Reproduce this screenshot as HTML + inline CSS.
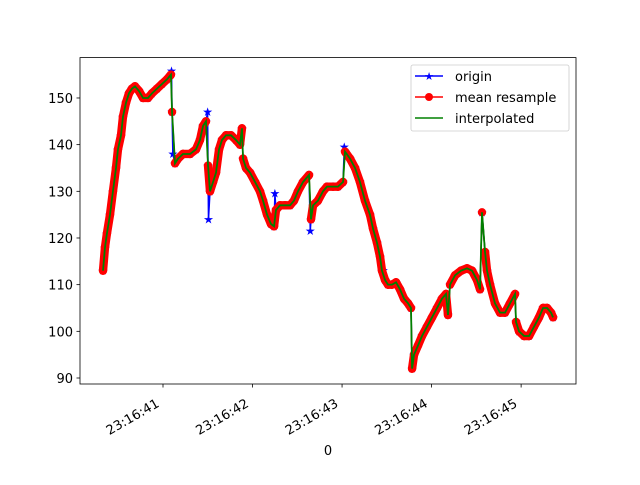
<!DOCTYPE html>
<html><head><meta charset="utf-8"><style>
body{margin:0;background:#fff;}
svg text{font-family:"DejaVu Sans","Liberation Sans",sans-serif;font-size:13px;fill:#000;}
</style></head><body>
<svg id="chart" width="640" height="480" xmlns="http://www.w3.org/2000/svg">
<rect x="0" y="0" width="640" height="480" fill="#fff"/>
<g id="plot"></g>
<rect x="80" y="57.6" width="496" height="326.4" fill="none" stroke="#000" stroke-width="0.8"/>
<g id="axes"></g>
<text x="328" y="455" text-anchor="middle">0</text>
<g>
<rect x="411" y="65" width="158" height="66" rx="2" fill="#fff" fill-opacity="0.8" stroke="#ccc" stroke-width="0.8"/>
<g>
<line x1="415" y1="76" x2="443" y2="76" stroke="#00f" stroke-width="1.5"/>
<text x="429" y="80" text-anchor="middle" style="font-size:11px;fill:#00f">★</text>
<text x="455" y="81">origin</text></g>
<g>
<line x1="415" y1="97" x2="443" y2="97" stroke="#f00" stroke-width="1.5"/>
<circle cx="429" cy="97" r="4" fill="#f00"/>
<text x="455" y="102">mean resample</text></g>
<g>
<line x1="415" y1="118" x2="443" y2="118" stroke="#008000" stroke-width="1.5"/>
<text x="455" y="123">interpolated</text></g>
</g>
</svg>
<script>
// times in ms after 23:16:40
const times=[330,352,374,408,441,475,497,531,553,587,620,654,687,732,777,832,877,933,989,1045,1089,1101,1134,1168,1223,1302,1369,1413,1447,1480,1503,1525,1559,1592,1626,1659,1704,1760,1815,1860,1882,1894,1927,1972,2028,2083,2117,2162,2206,2240,2262,2307,2363,2419,2463,2508,2564,2631,2653,2676,2731,2787,2832,2899,2955,3011,3033,3089,3145,3200,3256,3312,3346,3390,3424,3446,3480,3513,3558,3603,3647,3692,3737,3770,3782,3804,3849,3893,3949,4005,4061,4116,4161,4183,4206,4262,4329,4396,4452,4507,4541,4563,4597,4619,4653,4708,4764,4820,4876,4932,4943,4977,5033,5089,5144,5200,5245,5290,5334,5357];
const values=[113,118,121,125,130,135,139,142,146,149,151,152,152.5,151.5,150,150,151,152,153,154,155,147,136,137,138,138,139,141,144,145,135.5,130,132,134,139,141,142,142,141,140,143.5,137,135,134,132,130,128,125,123,122.5,126,127,127,127,128,130,132,133.5,124,127,128,130,131,131,131,132,138.5,137,135,132,128,125,122,119,116,113,111,110,110,110.5,109,107,106,105,92,95,97,99,101,103,105,107,108,103.5,110,112,113,113.5,113,111,109,125.5,117,113,110,106,104,104,106,108,102,100,99,99,101,103,105,105,104,103];
const originExtraTimes=[1095,1110,1498,1508,2250,2645,3025,3460];
const originExtraValues=[155.8,138,147,124,129.5,121.5,139.5,113];
const yTicks=[90,100,110,120,130,140,150];
const xTicks=[1000,2000,3000,4000,5000];
const xTickLabels=["23:16:41","23:16:42","23:16:43","23:16:44","23:16:45"];

const NS="http://www.w3.org/2000/svg";
const xs=t=>163+(t-1000)*0.08953;
const ys=v=>378-(v-90)*4.667;
const plot=document.getElementById('plot'),axes=document.getElementById('axes');
function mk(tag,attrs,parent){const e=document.createElementNS(NS,tag);for(const k in attrs)e.setAttribute(k,attrs[k]);parent.appendChild(e);return e;}

let orig=times.map((t,i)=>[t,values[i]]).concat(originExtraTimes.map((t,i)=>[t,originExtraValues[i]])).sort((a,b)=>a[0]-b[0]);
const ol=mk('polyline',{points:orig.map(p=>xs(p[0])+','+ys(p[1])).join(' '),fill:'none',stroke:'#00f','stroke-width':1.5},plot);


orig.forEach(p=>{const s=mk('text',{x:xs(p[0]),y:ys(p[1])+4,'text-anchor':'middle',style:'font-size:12px;fill:#00f'},plot);s.textContent='★';

});
for(let i=1;i<times.length;i++){
  if(Math.abs(values[i]-values[i-1])<6){
    const b=mk('line',{x1:xs(times[i-1]),y1:ys(values[i-1]),x2:xs(times[i]),y2:ys(values[i]),stroke:'#f00','stroke-width':8.4,'stroke-linecap':'round'},plot);
    
    
  }
}
const pts=times.map((t,i)=>xs(t)+','+ys(values[i])).join(' ');
const rl=mk('polyline',{points:pts,fill:'none',stroke:'#f00','stroke-width':1.5},plot);


times.forEach((t,i)=>{const c=mk('circle',{cx:xs(t),cy:ys(values[i]),r:4.2,fill:'#f00'},plot);

});
const gl=mk('polyline',{points:pts,fill:'none',stroke:'#008000','stroke-width':1.8},plot);



yTicks.forEach(v=>{const y=ys(v);
const l=mk('line',{x1:76.5,x2:80,y1:y,y2:y,stroke:'#000','stroke-width':0.8},axes);


const t=mk('text',{x:73,y:y+5,'text-anchor':'end'},axes);t.textContent=v;

});
xTicks.forEach((tv,i)=>{const x=xs(tv);
const l=mk('line',{x1:x,x2:x,y1:384,y2:387.5,stroke:'#000','stroke-width':0.8},axes);


const ax=x-3,ay=406;
const t=mk('text',{x:ax,y:ay,'text-anchor':'end',transform:`rotate(-30 ${ax} ${ay})`},axes);t.textContent=xTickLabels[i];

});
</script>
</body></html>
